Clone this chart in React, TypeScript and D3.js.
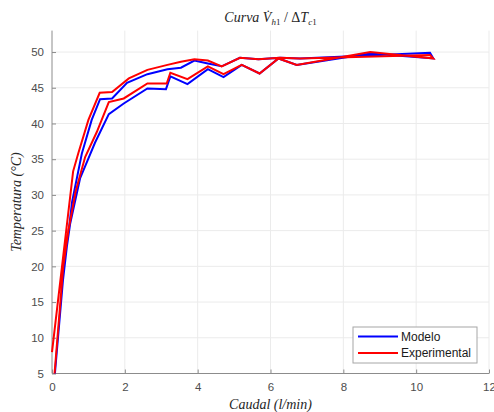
import React, { useRef, useEffect } from 'react';
import * as d3 from 'd3';

// Modelo: lower branch outward, then upper branch back
const modeloCaudal = [
  0.08, 0.33, 0.5, 0.77, 1.18, 1.56, 1.97, 2.62, 3.13, 3.25, 3.72, 4.28, 4.71, 5.21, 5.7, 6.22, 6.72, 8.74, 10.47,
  10.38, 6.81, 6.26, 5.67, 5.16, 4.66, 4.28, 3.91, 3.54, 3.17, 2.62, 2.06, 1.65, 1.32, 1.09, 0.82, 0.55, 0.3, 0.08
];
const modeloTemp = [
  5, 20, 26, 32.3, 37.3, 41.3, 42.8, 44.9, 44.8, 46.6, 45.5, 47.6, 46.5, 48.2, 47.0, 49.1, 48.2, 49.8, 49.1,
  49.9, 49.1, 49.2, 49.0, 49.2, 48.0, 48.4, 48.8, 47.8, 47.6, 46.9, 45.7, 43.5, 43.4, 40.5, 35.8, 29, 18, 5
];

// Experimental
const expCaudal = [
  0.07, 0.31, 0.45, 0.65, 0.91, 1.23, 1.56, 1.97, 2.62, 3.15, 3.25, 3.72, 4.28, 4.71, 5.21, 5.7, 6.22, 6.72, 8.74, 10.47,
  10.38, 6.81, 6.26, 5.67, 5.16, 4.66, 4.28, 3.91, 3.54, 3.17, 2.62, 2.11, 1.65, 1.31, 1.0, 0.72, 0.58, 0.0
];
const expTemp = [
  5, 20, 25, 30.5, 35.3, 38.8, 43.0, 43.5, 45.6, 45.6, 47.1, 46.2, 48.0, 46.9, 48.2, 47.0, 49.1, 48.2, 50.0, 49.1,
  49.6, 49.1, 49.2, 49.0, 49.2, 48.0, 48.8, 49.0, 48.65, 48.2, 47.5, 46.3, 44.4, 44.3, 40.5, 35.8, 33.3, 8
];

const xTicks = [0, 2, 4, 6, 8, 10, 12];
const yTicks = [5, 10, 15, 20, 25, 30, 35, 40, 45, 50];
const seriesNames = ['Modelo', 'Experimental'];
const seriesColors = ['#0000ff', '#ff0000'];

const W = 494;
const H = 412;

const App = () => {
  const svgRef = useRef(null);

  useEffect(() => {
    const svg = d3.select(svgRef.current);
    svg.selectAll('*').remove();

    const margin = { top: 30.6, right: 5, bottom: 38.5, left: 52 };
    const x = d3.scaleLinear().domain([0, 12]).range([margin.left, W - margin.right]);
    const y = d3.scaleLinear().domain([5, 53]).range([H - margin.bottom, margin.top]);
    const [x0, x1] = x.range();
    const [yb, yt] = y.range();

    svg.append('rect').attr('width', W).attr('height', H).attr('fill', '#fff');

    // grid
    svg.append('g').selectAll('line').data(xTicks.slice(1)).join('line')
      .attr('x1', d => x(d)).attr('x2', d => x(d))
      .attr('y1', yt).attr('y2', yb)
      .attr('stroke', '#ebebeb').attr('stroke-width', 1);
    svg.append('g').selectAll('line').data(yTicks.slice(1)).join('line')
      .attr('x1', x0).attr('x2', x1)
      .attr('y1', d => y(d)).attr('y2', d => y(d))
      .attr('stroke', '#ebebeb').attr('stroke-width', 1);

    // axes
    const xAxis = svg.append('g')
      .attr('transform', `translate(0,${yb})`)
      .call(d3.axisBottom(x).tickValues(xTicks).tickSizeInner(-4).tickSizeOuter(0).tickPadding(9));
    const yAxis = svg.append('g')
      .attr('transform', `translate(${x0},0)`)
      .call(d3.axisLeft(y).tickValues(yTicks).tickSizeInner(-4).tickSizeOuter(0).tickPadding(8));
    [xAxis, yAxis].forEach(ax => {
      ax.select('.domain').attr('stroke', '#8c8c8c');
      ax.selectAll('.tick line').attr('stroke', '#8c8c8c');
      ax.selectAll('text')
        .attr('fill', '#4d4d4d')
        .style('font-family', '"Liberation Sans", Arial, sans-serif')
        .style('font-size', '11.5px');
    });
    yAxis.select('.domain').attr('d', `M0,${yb}V${yt}`);
    xAxis.select('.domain').attr('d', `M${x0},0H${x1}`);

    // lines
    const line = d3.line().x(d => x(d[0])).y(d => y(d[1]));
    const series = [
      d3.zip(modeloCaudal, modeloTemp),
      d3.zip(expCaudal, expTemp)
    ];
    series.forEach((pts, i) => {
      svg.append('path')
        .datum(pts)
        .attr('d', line)
        .attr('fill', 'none')
        .attr('stroke', seriesColors[i])
        .attr('stroke-width', 2)
        .attr('stroke-linejoin', 'miter');
    });

    const serif = '"Liberation Serif", "DejaVu Serif", serif';

    // title
    const title = svg.append('text')
      .attr('x', (x0 + x1) / 2).attr('y', 22)
      .attr('text-anchor', 'middle')
      .style('font-family', serif).style('font-size', '14px')
      .attr('fill', '#262626');
    title.append('tspan').attr('font-style', 'italic').text('Curva V\u0307');
    title.append('tspan').attr('font-size', '9px').attr('dy', 3).attr('font-style', 'italic').text('h');
    title.append('tspan').attr('font-size', '9px').text('1');
    title.append('tspan').attr('dy', -3).text(' / \u0394');
    title.append('tspan').attr('font-style', 'italic').text('T');
    title.append('tspan').attr('font-size', '9px').attr('dy', 3).attr('font-style', 'italic').text('c');
    title.append('tspan').attr('font-size', '9px').text('1');

    // axis labels
    svg.append('text')
      .attr('x', (x0 + x1) / 2).attr('y', 409)
      .attr('text-anchor', 'middle')
      .style('font-family', serif).style('font-size', '14px').style('font-style', 'italic')
      .attr('fill', '#262626')
      .text('Caudal (l/min)');
    svg.append('text')
      .attr('transform', `translate(21,${(yt + yb) / 2}) rotate(-90)`)
      .attr('text-anchor', 'middle')
      .style('font-family', serif).style('font-size', '14px').style('font-style', 'italic')
      .attr('fill', '#262626')
      .text('Temperatura (\u00b0C)');

    // legend
    const lg = svg.append('g').attr('transform', 'translate(353,327)');
    lg.append('rect').attr('width', 124).attr('height', 36)
      .attr('fill', '#fff').attr('stroke', '#a6a6a6').attr('stroke-width', 1);
    seriesNames.forEach((name, i) => {
      const row = lg.append('g').attr('transform', `translate(0,${9.5 + i * 16.5})`);
      row.append('line').attr('x1', 5).attr('x2', 45).attr('stroke', seriesColors[i]).attr('stroke-width', 2);
      row.append('text').attr('x', 48).attr('y', 4.3)
        .style('font-family', '"Liberation Sans", Arial, sans-serif').style('font-size', '12px')
        .attr('fill', '#1a1a1a')
        .text(name);
    });
  }, []);

  return (
    <svg ref={svgRef} width={W} height={H} style={{ position: 'absolute', left: 0, top: 0 }} />
  );
};

export default App;
